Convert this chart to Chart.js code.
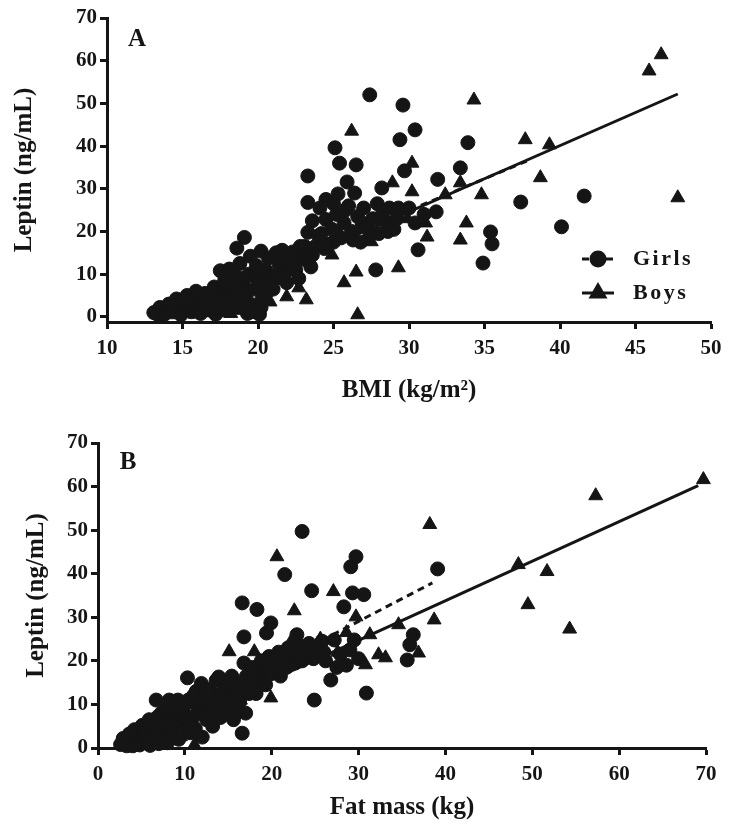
<!DOCTYPE html>
<html>
<head>
<meta charset="utf-8">
<script src="https://cdn.jsdelivr.net/npm/chart.js@4.4.0/dist/chart.umd.min.js"></script>
<style>
  html, body { margin: 0; padding: 0; background: #fff; }
  .panel { position: absolute; left: 0; width: 732px; height: 416px; }
</style>
</head>
<body>
<div class="panel" style="top:0"><canvas id="chartA" width="732" height="416"></canvas></div>
<div class="panel" style="top:416px"><canvas id="chartB" width="732" height="416"></canvas></div>
<script>
// Panel A: leptin vs BMI  [BMI, leptin]
const girlsA = [
  [13.1,1.0],[13.4,0.4],[13.5,2.2],[13.8,0.6],[14.0,1.8],[14.1,3.0],[14.4,1.4],[14.6,4.2],[14.7,2.0],[14.9,0.5],
  [15.0,3.8],[15.1,2.6],[15.3,5.0],[15.5,3.0],[15.6,1.2],[15.8,3.8],[15.9,6.0],[16.0,4.5],[16.2,0.8],[16.3,2.8],
  [16.5,5.5],[16.6,3.2],[16.8,1.6],[16.9,4.2],[17.0,5.2],[17.1,7.0],[17.2,0.6],[17.3,1.8],[17.4,3.0],[17.5,10.8],
  [17.6,5.6],[17.7,6.8],[17.8,8.6],[17.9,1.5],[18.0,2.8],[18.1,11.2],[18.2,4.0],[18.3,6.8],[18.4,5.2],[18.5,9.5],
  [18.6,16.1],[18.7,2.2],[18.8,12.5],[18.9,3.6],[18.9,9.0],[19.0,7.5],[19.1,18.6],[19.2,4.8],[19.3,0.8],[19.3,6.2],
  [19.4,10.0],[19.5,14.2],[19.6,1.2],[19.7,2.8],[19.8,6.5],[19.8,9.5],[19.9,12.0],[20.0,8.8],[20.1,0.6],[20.2,2.2],
  [20.2,15.4],[20.3,4.5],[20.4,8.0],[20.5,11.0],[20.6,5.8],[20.7,13.8],[20.8,7.0],[21.0,9.5],[21.0,6.5],[21.2,15.0],
  [21.4,12.2],[21.5,9.5],[21.6,15.6],[21.8,10.5],[21.9,8.0],[22.0,13.5],[22.3,15.2],[22.4,12.5],[22.5,11.0],[22.7,9.0],
  [22.8,16.5],[23.0,13.5],[23.1,16.5],[23.3,19.8],[23.3,26.8],[23.3,33.0],[23.5,11.7],[23.6,14.5],[23.6,22.5],[23.8,16.5],
  [24.0,19.0],[24.1,25.5],[24.2,19.5],[24.4,16.0],[24.5,22.8],[24.5,27.5],[24.7,17.0],[24.9,20.5],[25.0,17.5],[25.0,26.5],
  [25.1,39.6],[25.2,24.0],[25.3,28.8],[25.4,36.0],[25.5,18.5],[25.7,22.0],[25.8,25.0],[25.9,31.6],[26.0,26.0],[26.2,20.0],
  [26.3,18.0],[26.4,29.0],[26.5,35.6],[26.6,23.5],[26.8,17.5],[26.9,22.0],[27.0,25.5],[27.2,21.0],[27.4,19.0],[27.4,52.0],
  [27.6,23.0],[27.8,11.0],[27.9,26.5],[28.0,19.5],[28.2,30.2],[28.4,22.5],[28.6,20.0],[28.7,25.5],[29.0,20.5],[29.2,23.0],
  [29.3,25.5],[29.4,41.5],[29.6,49.6],[29.7,34.2],[30.0,25.5],[30.4,43.8],[30.4,22.0],[30.6,15.7],[31.0,24.0],[31.8,24.6],
  [31.9,32.2],[33.4,34.9],[33.9,40.8],[34.9,12.6],[35.4,19.9],[35.5,17.1],[37.4,26.9],[40.1,21.1],[41.6,28.3]
];
const boysA = [
  [14.6,0.5],[15.2,1.8],[15.8,0.7],[16.4,2.4],[17.0,1.0],[17.6,3.2],[18.2,0.8],[18.8,2.6],[19.4,4.0],[19.9,1.2],
  [20.3,6.0],[20.8,3.5],[21.3,8.5],[21.9,4.7],[22.2,10.5],[22.7,6.8],[23.2,4.0],[23.4,13.5],[24.0,16.0],[24.9,14.5],
  [25.4,19.5],[25.7,8.0],[26.2,43.5],[26.5,10.5],[26.6,0.5],[26.9,21.5],[27.5,17.6],[28.1,24.5],[28.9,31.4],[29.3,11.5],
  [29.9,23.0],[30.2,36.0],[30.2,29.3],[31.1,22.0],[31.2,18.7],[32.4,28.6],[33.4,31.4],[33.4,18.0],[33.8,22.0],[34.3,50.8],
  [34.8,28.6],[37.7,41.5],[38.7,32.6],[39.3,40.3],[45.9,57.6],[46.7,61.4],[47.8,27.9]
];
const girlsFitA = [[13.2,0.0],[37.8,36.5]];
const boysFitA = [[14.5,0.6],[47.8,52.2]];
const bmiTicks = [10,15,20,25,30,35,40,45,50];

// Panel B: leptin vs fat mass  [kg, leptin]
const girlsB = [
  [2.6,0.8],[2.9,2.2],[3.3,0.5],[3.5,1.8],[3.6,3.2],[3.9,1.4],[4.0,0.5],[4.2,4.2],[4.5,2.4],[4.8,0.7],
  [5.0,2.5],[5.1,5.2],[5.4,3.2],[5.5,4.5],[5.7,1.4],[5.9,6.5],[6.0,0.6],[6.2,4.4],[6.5,2.2],[6.6,5.5],
  [6.7,11.0],[6.9,7.2],[7.0,1.0],[7.2,3.5],[7.3,8.0],[7.5,5.8],[7.8,8.8],[8.0,1.2],[8.0,6.0],[8.2,11.0],
  [8.4,4.0],[8.5,2.5],[8.7,7.0],[8.9,5.0],[9.0,9.5],[9.2,11.0],[9.3,2.0],[9.6,5.5],[9.8,3.5],[9.9,8.0],
  [10.0,10.0],[10.3,16.1],[10.4,11.0],[10.5,6.0],[10.6,3.5],[10.9,7.0],[11.0,12.0],[11.2,4.5],[11.3,13.0],[11.5,9.0],
  [11.7,8.0],[11.9,14.8],[12.0,2.5],[12.2,11.0],[12.4,13.5],[12.5,6.5],[12.8,8.8],[12.9,13.0],[13.2,5.0],[13.3,9.5],
  [13.6,15.5],[13.7,11.5],[13.9,16.3],[14.1,7.0],[14.2,12.5],[14.5,8.0],[14.6,10.5],[14.8,14.0],[15.0,15.5],[15.1,11.0],
  [15.3,9.0],[15.4,16.5],[15.6,6.5],[15.8,12.0],[15.9,8.0],[16.2,13.5],[16.3,10.5],[16.6,3.4],[16.6,15.0],[16.6,33.3],
  [16.8,25.5],[16.8,19.5],[17.0,8.0],[17.1,16.5],[17.4,12.5],[17.5,14.5],[17.8,18.5],[18.0,16.0],[18.2,12.5],[18.3,31.8],
  [18.4,15.5],[18.8,17.0],[18.8,20.0],[19.2,17.5],[19.3,14.5],[19.4,26.4],[19.7,21.0],[19.9,17.5],[19.9,28.7],[20.3,19.0],
  [20.5,20.5],[20.8,22.0],[21.0,16.5],[21.3,20.0],[21.5,39.8],[21.7,18.5],[21.9,23.0],[22.2,22.0],[22.4,21.0],[22.7,19.5],
  [22.9,26.0],[23.2,23.5],[23.5,49.7],[23.5,20.0],[23.8,21.5],[24.0,22.0],[24.3,24.0],[24.6,36.1],[24.8,20.5],[24.9,11.0],
  [25.3,22.5],[25.5,23.0],[25.8,24.5],[26.0,22.0],[26.2,20.0],[26.8,15.6],[27.2,24.8],[27.5,18.5],[27.9,21.5],[28.3,32.4],
  [28.6,19.0],[29.0,22.5],[29.1,41.6],[29.3,35.6],[29.5,24.8],[29.7,43.9],[30.0,20.5],[30.6,35.2],[30.9,12.6],[35.6,20.2],
  [35.9,23.7],[36.3,26.0],[39.1,41.1]
];
const boysB = [
  [3.0,0.5],[3.8,1.6],[4.6,0.8],[5.4,2.2],[6.1,1.0],[6.9,3.2],[7.7,1.8],[8.6,4.2],[9.5,2.6],[10.3,5.8],
  [11.1,0.7],[11.9,7.5],[12.7,9.8],[13.5,6.8],[14.3,11.5],[15.1,22.1],[15.5,13.8],[16.4,11.0],[17.1,15.5],[18.0,22.1],
  [18.6,17.5],[19.6,19.5],[19.9,11.5],[20.6,43.9],[21.1,21.5],[22.1,24.0],[22.6,31.5],[23.6,20.5],[24.6,23.0],[25.6,25.0],
  [27.1,35.9],[27.6,22.0],[28.6,26.5],[29.7,30.1],[30.8,19.1],[31.3,26.0],[32.3,21.4],[33.1,20.7],[34.6,28.3],[36.9,21.8],
  [38.2,51.3],[38.7,29.4],[48.4,42.1],[49.5,32.9],[51.7,40.5],[54.3,27.3],[57.3,57.9],[69.7,61.6]
];
const girlsFitB = [[2.5,0.5],[38.5,37.9]];
const boysFitB = [[3.0,0.2],[69.1,60.2]];
const fatTicks = [0,10,20,30,40,50,60,70];

const leptinTicks = [0,10,20,30,40,50,60,70];

const INK = '#151515';
const SERIF = '"Liberation Serif", "Times New Roman", serif';

// 패널 문자와 범례
const panelDecor = {
    id: 'panelDecor',
    afterDraw(chart, args, opts) {
        const ctx = chart.ctx;
        ctx.save();
        ctx.fillStyle = INK;
        ctx.textAlign = 'center';
        ctx.textBaseline = 'middle';
        ctx.font = 'bold 25px ' + SERIF;
        ctx.fillText(opts.letter, opts.letterX, opts.letterY);

        if (opts.legend) {
            const lg = opts.legend;
            const marks = chart.data.datasets.filter(d => !d.showLine);
            marks.forEach((ds, i) => {
                const fit = chart.data.datasets.find(d => d.label === ds.label + ' fit');
                const y = lg.y + i * lg.gap;
                ctx.strokeStyle = fit.borderColor;
                ctx.lineWidth = fit.borderWidth;
                ctx.setLineDash(fit.borderDash || []);
                ctx.beginPath();
                ctx.moveTo(lg.x, y);
                ctx.lineTo(lg.x + lg.len, y);
                ctx.stroke();
                ctx.setLineDash([]);
                ctx.fillStyle = ds.backgroundColor;
                ctx.strokeStyle = ds.borderColor;
                Chart.helpers.drawPoint(ctx, {
                    pointStyle: ds.pointStyle,
                    radius: ds.pointRadius,
                    rotation: 0,
                    borderWidth: 1
                }, lg.x + lg.len / 2, y);
                ctx.fillStyle = INK;
                ctx.textAlign = 'left';
                ctx.font = 'bold 22px ' + SERIF;
                ctx.letterSpacing = '2.5px';
                ctx.fillText(ds.label, lg.x + lg.textGap, y);
                ctx.letterSpacing = '0px';
            });
        }
        ctx.restore();
    }
};

function fitDataset(label, data, dash) {
    return {
        label: label,
        data: data.map(p => ({ x: p[0], y: p[1] })),
        showLine: true,
        borderColor: INK,
        borderWidth: 3,
        borderDash: dash,
        pointRadius: 0,
        clip: false
    };
}

function pointDataset(label, data, style, radius) {
    return {
        label: label,
        data: data.map(p => ({ x: p[0], y: p[1] })),
        showLine: false,
        pointStyle: style,
        pointRadius: radius,
        backgroundColor: INK,
        borderColor: INK,
        borderWidth: 1,
        clip: false
    };
}

function axisStyle() {
    return {
        border: { display: true, color: INK, width: 3 },
        grid: { drawOnChartArea: false, drawTicks: true, tickLength: 7, tickWidth: 3, tickColor: INK }
    };
}

function buildPanel(id, p) {
    return new Chart(document.getElementById(id), {
        type: 'scatter',
        data: {
            datasets: [
                fitDataset('Girls fit', p.girlsFit, [7, 5]),
                fitDataset('Boys fit', p.boysFit, []),
                pointDataset('Girls', p.girls, 'circle', 7),
                pointDataset('Boys', p.boys, 'triangle', 8)
            ]
        },
        options: {
            responsive: false,
            animation: false,
            layout: { padding: { top: p.padTop, right: p.padRight, left: 0, bottom: 0 } },
            plugins: {
                legend: { display: false },
                tooltip: { enabled: false },
                panelDecor: p.decor
            },
            scales: {
                x: {
                    type: 'linear',
                    min: p.xMin,
                    max: p.xMax,
                    afterBuildTicks: s => { s.ticks = p.xTicks.map(v => ({ value: v })); },
                    afterFit: s => { s.height = p.xAxisHeight; },
                    ...axisStyle(),
                    ticks: { color: INK, font: { family: SERIF, size: 21, weight: 'bold' }, padding: 7, maxRotation: 0, autoSkip: false },
                    title: { display: true, text: p.xTitle, color: INK, font: { family: SERIF, size: 25, weight: 'bold' }, padding: { top: 0, bottom: p.xTitlePad } }
                },
                y: {
                    type: 'linear',
                    min: p.yMin,
                    max: 70,
                    afterBuildTicks: s => { s.ticks = leptinTicks.map(v => ({ value: v })); },
                    afterFit: s => { s.width = p.yAxisWidth; },
                    ...axisStyle(),
                    ticks: { color: INK, font: { family: SERIF, size: 21, weight: 'bold' }, padding: 3, autoSkip: false },
                    title: { display: true, text: 'Leptin (ng/mL)', color: INK, font: { family: SERIF, size: 25, weight: 'bold' }, padding: { top: p.yTitlePad, bottom: 0 } }
                }
            }
        },
        plugins: [panelDecor]
    });
}

buildPanel('chartA', {
    girls: girlsA, boys: boysA, girlsFit: girlsFitA, boysFit: boysFitA,
    xMin: 10, xMax: 50, xTicks: bmiTicks, yMin: -1.2,
    xTitle: 'BMI (kg/m²)',
    padTop: 18, padRight: 21, xAxisHeight: 94, yAxisWidth: 107,
    xTitlePad: 10, yTitlePad: 10,
    decor: { letter: 'A', letterX: 137, letterY: 40, legend: { x: 582, y: 259, gap: 34, len: 32, textGap: 51 } }
});

buildPanel('chartB', {
    girls: girlsB, boys: boysB, girlsFit: girlsFitB, boysFit: boysFitB,
    xMin: 0, xMax: 70, xTicks: fatTicks, yMin: 0,
    xTitle: 'Fat mass (kg)',
    padTop: 27, padRight: 26, xAxisHeight: 84, yAxisWidth: 98,
    xTitlePad: 9, yTitlePad: 22,
    decor: { letter: 'B', letterX: 128, letterY: 47 }
});
</script>
</body>
</html>
